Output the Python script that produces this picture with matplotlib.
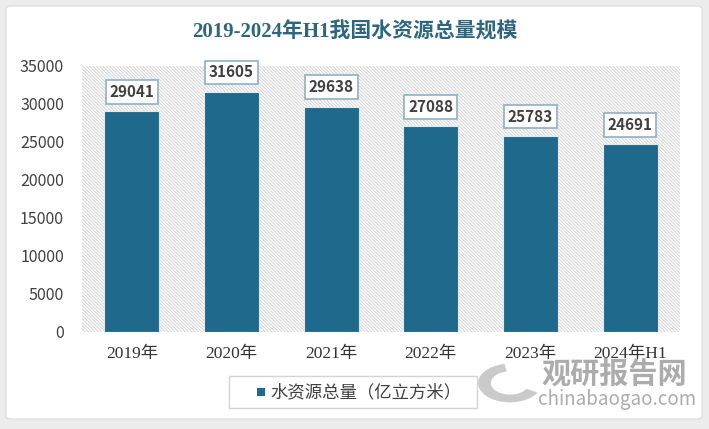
''' 2019-2024H1 water resource chart '''
import matplotlib
matplotlib.use('Agg')
import matplotlib.pyplot as plt
from matplotlib.patches import FancyBboxPatch, Rectangle, Wedge

years = ['2019年', '2020年', '2021年', '2022年', '2023年', '2024年H1']
water = [29041, 31605, 29638, 27088, 25783, 24691]
yticks = [0, 5000, 10000, 15000, 20000, 25000, 30000, 35000]
legend_label = '水资源总量（亿立方米）'

bar_color = '#1f6a8c'
cjk = ['Noto Sans CJK SC', 'DejaVu Sans']
serif_cjk = ['Liberation Serif', 'Noto Sans CJK SC']
plt.rcParams['hatch.linewidth'] = 0.8

fig = plt.figure(figsize=(7.09, 4.29), dpi=100)
fig.patch.set_facecolor('#ececec')
# white card behind everything
card = FancyBboxPatch((6/709, 1-419/429), 696/709, 413/429, boxstyle='round,pad=0,rounding_size=0.008',
                      transform=fig.transFigure, facecolor='white', edgecolor='#e0e0e0', lw=1,
                      zorder=-10)
fig.patches.append(card)

ax = fig.add_axes([82/709, 1-332/429, 598/709, 266/429])
ax.set_facecolor('white')
ax.add_patch(Rectangle((0, 0), 1, 1, transform=ax.transAxes, facecolor='white',
                       edgecolor='#d9d9d9', hatch='\\' * 10, lw=0, zorder=0))

x = range(len(years))
ax.bar(x, water, width=0.55, color=bar_color, edgecolor='#dfe9ee', lw=0.8, zorder=2)

for xi, v in zip(x, water):
    ax.annotate(f'{v}', (xi, v), xytext=(0, 14), textcoords='offset points',
                ha='center', va='center', fontsize=11, fontweight='bold', color='#404040',
                family=cjk, zorder=3,
                bbox=dict(boxstyle='square,pad=0.25', fc='white', ec='#8fb0c4', lw=1.2))

ax.set_xlim(-0.5, len(years) - 0.5)
ax.set_ylim(0, 35000)
ax.set_yticks(yticks)
ax.set_yticklabels([str(t) for t in yticks], fontsize=11.5, color='#404040', family=cjk)
ax.set_xticks(list(x))
ax.set_xticklabels(years, fontsize=12.5, color='#333333', family=serif_cjk)
ax.tick_params(length=0)
ax.tick_params(axis='x', pad=10)
ax.tick_params(axis='y', pad=13)
for s in ax.spines.values():
    s.set_visible(False)

fig.text(0.5, 1-32/429, '2019-2024年H1我国水资源总量规模', ha='center', va='center',
         fontsize=15, fontweight='bold', color='#2e6680', family=serif_cjk)

# legend drawn as a box with a swatch
fig.patches.append(Rectangle((229/709, 1-408/429), 248/709, 32/429, transform=fig.transFigure,
                             facecolor='white', edgecolor='#d4d4d4', lw=1, zorder=3))
fig.patches.append(Rectangle((257/709, 1-396/429), 8/709, 8/429, transform=fig.transFigure,
                             facecolor=bar_color, lw=0, zorder=4))
fig.text(270/709, 1-392/429, legend_label, ha='left', va='center', fontsize=12.5,
         color='#404040', family=cjk, zorder=5)

# watermark
fig.patches.append(Wedge((510/709, 1-383/429), 0.045, 100, 330, width=0.018,
                         transform=fig.transFigure, facecolor='#bdbdbd', alpha=0.8, lw=0))
fig.text(541/709, 1-374/429, '观研报告网', fontsize=21, fontweight='bold', color='#9e9e9e',
         alpha=0.85, family=cjk, ha='left', va='center')
fig.text(538/709, 1-399/429, 'chinabaogao.com', fontsize=13.5, color='#9e9e9e', alpha=0.85,
         family=cjk, ha='left', va='center')

fig.savefig('out.png', dpi=100, facecolor=fig.get_facecolor())
